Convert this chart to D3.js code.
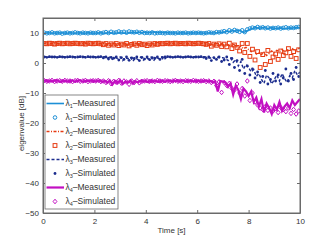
<!DOCTYPE html>
<html>
<head>
<meta charset="utf-8">
<script src="https://cdn.jsdelivr.net/npm/d3@7"></script>
<style>
  body { margin: 0; background: #fff; }
  svg { font-family: "Liberation Sans", Arial, sans-serif; }
  .axis path, .axis line { stroke: #6a6a6a; }
  .axis text { fill: #333; font-size: 8px; }
</style>
</head>
<body>
<div id="chart"></div>
<script>
// time axes: measured at 0.1 s, simulated offset by 0.05 s
const tMeas = d3.range(0, 101).map(i => i / 10);
const tSim = d3.range(0, 100).map(i => i / 10 + 0.05);

const l1Meas = [
  10.0, 9.9, 10.1, 10.0, 10.0, 9.9, 10.1, 10.0, 10.1, 9.9,
  10.0, 10.1, 9.9, 10.0, 10.0, 10.1, 9.9, 10.0, 10.1, 10.0,
  9.9, 10.0, 10.1, 10.0, 9.9, 10.0, 10.1, 10.0, 9.9, 10.0,
  10.1, 10.0, 9.9, 10.0, 10.1, 10.2, 10.0, 10.3, 10.1, 10.2,
  10.3, 10.1, 10.2, 10.4, 10.1, 10.2, 10.3, 10.0, 10.2, 10.1,
  10.0, 10.1, 9.9, 10.0, 10.1, 10.0, 9.9, 10.0, 10.1, 10.0,
  10.0, 10.1, 10.0, 9.9, 10.0, 10.1, 10.0, 10.0, 10.1, 10.2,
  10.2, 10.4, 10.6, 10.5, 10.8, 10.6, 10.9, 10.7, 10.2, 10.5,
  11.0, 11.4, 11.6, 11.8, 11.6, 11.7, 11.9, 11.5, 11.6, 11.8,
  11.6, 11.5, 11.7, 11.6, 11.4, 11.5, 11.7, 11.6, 11.8, 11.7,
  11.9
];
const l1Sim = [
  10.1, 9.9, 10.0, 10.2, 9.9, 10.0, 10.1, 9.8, 10.0, 10.1,
  9.9, 10.0, 10.2, 10.0, 9.9, 10.1, 10.0, 9.9, 10.1, 10.0,
  10.0, 10.2, 9.9, 10.1, 10.3, 10.0, 10.4, 10.1, 10.2, 10.5,
  10.2, 10.4, 10.1, 10.5, 10.3, 10.2, 10.4, 10.1, 10.3, 10.0,
  10.1, 10.0, 10.2, 9.9, 10.0, 10.1, 10.0, 9.9, 10.1, 10.0,
  10.0, 9.9, 10.1, 10.0, 10.0, 10.1, 9.9, 10.0, 10.1, 10.0,
  10.1, 10.0, 9.9, 10.0, 10.2, 10.1, 10.0, 10.3, 10.2, 10.4,
  10.6, 10.3, 10.9, 10.5, 11.0, 10.7, 10.4, 10.9, 10.3, 11.2,
  11.5, 11.8, 11.6, 12.0, 11.7, 11.9, 11.6, 11.8, 11.5, 11.7,
  11.6, 11.8, 11.5, 11.7, 11.9, 11.6, 11.8, 11.7, 11.9, 12.0
];

const l2Meas = [
  6.5, 6.6, 6.4, 6.5, 6.5, 6.6, 6.4, 6.5, 6.6, 6.5,
  6.4, 6.5, 6.5, 6.6, 6.4, 6.5, 6.6, 6.5, 6.4, 6.5,
  6.6, 6.5, 6.4, 6.5, 6.6, 6.2, 6.5, 6.3, 6.6, 6.1,
  6.5, 6.3, 6.4, 6.0, 6.5, 6.2, 6.4, 6.1, 6.5, 6.3,
  6.4, 6.2, 6.5, 6.3, 6.5, 6.4, 6.6, 6.5, 6.4, 6.5,
  6.5, 6.6, 6.4, 6.5, 6.6, 6.5, 6.4, 6.5, 6.6, 6.5,
  6.4, 6.5, 6.6, 6.5, 6.3, 6.5, 6.2, 6.5, 6.3, 6.4,
  6.4, 6.3, 6.0, 5.5, 6.2, 5.8, 5.0, 5.6, 4.8, 5.2,
  4.5, 3.8, 4.2, 3.0, 3.5, 2.8, 3.6, 2.5, 3.2, 4.0,
  3.4, 4.2, 3.8, 4.5, 3.6, 4.4, 4.0, 4.8, 4.2, 4.6,
  5.0
];
const l2Sim = [
  6.5, 6.4, 6.6, 6.5, 6.3, 6.5, 6.6, 6.4, 6.5, 6.6,
  6.4, 6.5, 6.6, 6.5, 6.4, 6.5, 6.3, 6.6, 6.5, 6.4,
  6.5, 6.6, 6.4, 6.1, 6.5, 5.9, 6.4, 6.0, 6.5, 5.8,
  6.3, 6.0, 6.5, 5.7, 6.2, 6.4, 5.9, 6.5, 6.1, 6.3,
  5.8, 6.4, 6.0, 6.5, 6.2, 6.5, 6.4, 6.5, 6.6, 6.4,
  6.5, 6.6, 6.4, 6.5, 6.5, 6.4, 6.6, 6.5, 6.4, 6.5,
  6.6, 6.5, 6.4, 6.2, 6.5, 5.6, 6.3, 5.9, 6.4, 5.5,
  6.3, 5.4, 6.6, 4.8, 6.0, 5.2, 4.0, 6.5, 3.5, 6.5,
  2.2, 4.6, 1.0, 3.8, -1.5, 2.8, -0.5, 4.2, 0.5, 2.0,
  3.0, 1.2, 4.0, 2.5, 3.4, 4.8, 2.2, 3.8, 1.5, 4.4
];

const l3Meas = [
  2.0, 2.1, 1.9, 2.0, 2.0, 2.1, 1.9, 2.0, 2.1, 2.0,
  1.9, 2.0, 2.1, 2.0, 1.9, 2.0, 2.1, 2.0, 1.9, 2.0,
  2.1, 2.0, 1.9, 2.0, 2.1, 1.6, 2.0, 1.2, 1.9, 1.5,
  2.0, 0.8, 1.8, 1.4, 2.0, 0.6, 1.7, 1.1, 2.0, 0.9,
  1.8, 1.3, 2.0, 0.7, 1.9, 1.5, 2.0, 1.0, 1.8, 2.0,
  2.1, 2.0, 1.9, 2.0, 2.1, 2.0, 1.9, 2.0, 2.0, 2.1,
  2.0, 1.9, 2.0, 2.1, 1.9, 1.6, 2.0, 1.4, 1.9, 1.7,
  1.8, 1.5, 0.8, 1.6, 0.2, 1.2, -1.0, 0.5, -2.0, -0.5,
  -1.5, -3.0, -2.2, -4.5, -3.5, -5.5, -6.8, -4.0, -5.0, -7.0,
  -5.5, -4.0, -6.0, -3.5, -5.2, -6.5, -4.2, -5.0, -2.5, -4.0,
  -3.0
];
const l3Sim = [
  2.0, 1.9, 2.1, 2.0, 2.0, 1.9, 2.1, 2.0, 1.9, 2.0,
  2.1, 2.0, 1.9, 2.0, 2.1, 2.0, 1.9, 2.1, 2.0, 2.0,
  1.9, 2.0, 2.1, 1.7, 2.0, 1.3, 1.9, 1.6, 2.0, 1.0,
  1.8, 1.2, 2.0, 0.9, 1.7, 1.5, 2.0, 0.8, 1.9, 1.3,
  2.0, 1.1, 1.8, 1.6, 2.0, 1.2, 1.9, 2.0, 2.1, 2.0,
  1.9, 2.0, 2.1, 2.0, 1.9, 2.0, 2.1, 2.0, 1.9, 2.0,
  2.0, 2.1, 1.9, 1.5, 2.0, 0.8, 1.8, 1.2, 2.0, 0.5,
  1.0, 2.0, -0.5, 1.5, -1.5, 0.8, -2.5, 1.2, -3.5, -1.0,
  -4.0, -2.0, -5.0, -3.0, -6.5, -4.5, -2.5, -7.0, -5.5, -3.5,
  -6.0, -4.0, -7.0, -5.0, -2.0, -6.0, -3.5, -5.5, -1.5, -4.5
];

const l4Meas = [
  -6.0, -5.8, -6.2, -5.9, -6.1, -5.7, -6.0, -6.3, -5.9, -6.0,
  -6.2, -5.8, -6.0, -6.1, -5.7, -6.0, -6.2, -5.9, -6.0, -5.8,
  -6.1, -6.0, -5.8, -6.3, -5.9, -6.6, -5.8, -7.2, -6.0, -6.8,
  -5.7, -7.0, -6.2, -6.5, -5.8, -6.9, -6.1, -6.4, -5.9, -6.2,
  -6.0, -6.4, -5.8, -6.2, -6.0, -6.3, -5.9, -6.1, -6.0, -5.8,
  -6.2, -5.9, -6.0, -6.1, -5.8, -6.0, -6.2, -5.9, -6.0, -6.1,
  -5.9, -6.0, -6.2, -5.8, -6.1, -6.0, -6.4, -6.1, -9.5, -6.0,
  -6.2, -6.5, -8.0, -6.8, -10.5, -7.5, -9.0, -12.0, -8.5, -9.5,
  -11.0, -9.5, -13.0, -11.5, -14.5, -12.0, -16.5, -13.5, -15.0, -17.0,
  -14.0, -15.5, -13.0, -16.0, -14.5, -13.5, -15.0, -12.5, -14.0, -13.0,
  -12.0
];
const l4Sim = [
  -5.9, -6.1, -6.0, -5.8, -6.2, -6.0, -5.9, -6.1, -5.8, -6.0,
  -6.0, -6.2, -5.9, -5.8, -6.1, -6.0, -5.8, -6.2, -6.0, -5.9,
  -6.0, -5.8, -6.2, -6.0, -6.5, -5.9, -6.9, -6.1, -6.4, -5.8,
  -6.7, -6.0, -6.3, -7.1, -6.0, -6.5, -5.9, -6.6, -6.1, -6.0,
  -5.9, -6.1, -6.0, -6.2, -5.8, -6.0, -6.1, -5.9, -6.0, -6.2,
  -6.0, -5.8, -6.1, -6.0, -6.2, -5.9, -6.0, -6.1, -5.8, -6.0,
  -6.1, -6.0, -5.9, -6.2, -6.0, -6.5, -6.1, -7.5, -6.3, -9.8,
  -6.5, -7.5, -6.8, -8.5, -9.0, -7.0, -10.0, -8.5, -11.0, -6.0,
  -12.5, -10.0, -13.0, -14.0, -15.0, -15.5, -14.5, -15.8, -15.0, -16.0,
  -15.2, -16.5, -14.8, -15.5, -16.2, -15.0, -16.8, -15.5, -17.0, -16.0
];

const xTicks = [0, 2, 4, 6, 8, 10];
const yTicks = [-50, -40, -30, -20, -10, 0, 10];

const series = [
  { idx: 1, meas: l1Meas, sim: l1Sim, color: '#1d8fd6', width: 1.6, dash: null, marker: 'circle' },
  { idx: 2, meas: l2Meas, sim: l2Sim, color: '#e63b12', width: 1.4, dash: '3,1.5,1,1.5', marker: 'square' },
  { idx: 3, meas: l3Meas, sim: l3Sim, color: '#1c2d8e', width: 1.4, dash: '3,2', marker: 'dot' },
  { idx: 4, meas: l4Meas, sim: l4Sim, color: '#c20fc2', width: 2.2, dash: null, marker: 'diamond' },
];

const W = 332, H = 240;
const pad = { l: 43, r: 32, t: 18, b: 27 };
const iw = W - pad.l - pad.r, ih = H - pad.t - pad.b;

const svg = d3.select('#chart').append('svg')
  .attr('width', W).attr('height', H);
const g = svg.append('g').attr('transform', `translate(${pad.l},${pad.t})`);

const x = d3.scaleLinear().domain([0, 10]).range([0, iw]);
const y = d3.scaleLinear().domain([-50, 15]).range([ih, 0]);

g.append('clipPath').attr('id', 'clip')
  .append('rect').attr('width', iw).attr('height', ih);

const drawMarker = (sel, kind, color) => {
  if (kind === 'circle') {
    sel.append('circle').attr('r', 1.8).attr('fill', 'none').attr('stroke', color).attr('stroke-width', 1);
  } else if (kind === 'square') {
    sel.append('rect').attr('x', -1.9).attr('y', -1.9).attr('width', 3.8).attr('height', 3.8)
      .attr('fill', 'none').attr('stroke', color).attr('stroke-width', 1);
  } else if (kind === 'dot') {
    sel.append('circle').attr('r', 1.4).attr('fill', color);
  } else {
    sel.append('path').attr('d', 'M0,-2.3L1.9,0L0,2.3L-1.9,0Z')
      .attr('fill', 'none').attr('stroke', color).attr('stroke-width', 1);
  }
};

const plot = g.append('g').attr('clip-path', 'url(#clip)');
const line = d3.line().x((d, i) => x(tMeas[i])).y(d => y(d));

series.forEach(s => {
  plot.append('path')
    .datum(s.meas)
    .attr('fill', 'none')
    .attr('stroke', s.color)
    .attr('stroke-width', s.width)
    .attr('stroke-dasharray', s.dash)
    .attr('d', line);
  plot.append('g').selectAll('g')
    .data(s.sim)
    .join('g')
    .attr('transform', (d, i) => `translate(${x(tSim[i])},${y(d)})`)
    .each(function () { drawMarker(d3.select(this), s.marker, s.color); });
});

// axes with inward ticks on all four sides
g.append('g').attr('class', 'axis').attr('transform', `translate(0,${ih})`)
  .call(d3.axisBottom(x).tickValues(xTicks).tickSizeInner(-3).tickSizeOuter(0).tickPadding(5).tickFormat(d3.format('')));
g.append('g').attr('class', 'axis')
  .call(d3.axisTop(x).tickValues(xTicks).tickSizeInner(-3).tickSizeOuter(0).tickFormat(''));
g.append('g').attr('class', 'axis')
  .call(d3.axisLeft(y).tickValues(yTicks).tickSizeInner(-3).tickSizeOuter(0).tickPadding(4).tickFormat(d => d < 0 ? '\u2212' + Math.abs(d) : d));
g.append('g').attr('class', 'axis').attr('transform', `translate(${iw},0)`)
  .call(d3.axisRight(y).tickValues(yTicks).tickSizeInner(-3).tickSizeOuter(0).tickFormat(''));
g.append('rect').attr('width', iw).attr('height', ih)
  .attr('fill', 'none').attr('stroke', '#6a6a6a').attr('stroke-width', 1);

g.append('text')
  .attr('x', iw / 2).attr('y', ih + 20)
  .attr('text-anchor', 'middle').attr('fill', '#333').attr('font-size', 8)
  .text('Time [s]');
g.append('text')
  .attr('transform', `translate(-19,${ih / 2 + 8}) rotate(-90)`)
  .attr('text-anchor', 'middle').attr('fill', '#333').attr('font-size', 8)
  .text('eigenvalue [dB]');

// legend
const leg = svg.append('g').attr('transform', 'translate(45,95)');
leg.append('rect').attr('width', 73).attr('height', 114)
  .attr('fill', '#fff').attr('stroke', '#6a6a6a').attr('stroke-width', 0.8);
const rows = [];
series.forEach(s => {
  rows.push({ s, kind: 'line', label: 'Measured' });
  rows.push({ s, kind: 'marker', label: 'Simulated' });
});
rows.forEach((r, i) => {
  const ry = 8.5 + i * 14;
  const row = leg.append('g').attr('transform', `translate(0,${ry})`);
  if (r.kind === 'line') {
    row.append('line').attr('x1', 1.5).attr('x2', 19).attr('y1', 0).attr('y2', 0)
      .attr('stroke', r.s.color).attr('stroke-width', r.s.width)
      .attr('stroke-dasharray', r.s.dash);
  } else {
    drawMarker(row.append('g').attr('transform', 'translate(10,0)'), r.s.marker, r.s.color);
  }
  const t = row.append('text').attr('x', 20.5).attr('y', 2.5)
    .attr('fill', '#333').attr('font-size', 8.5);
  t.append('tspan').text('\u03bb');
  t.append('tspan').attr('font-size', 5.5).attr('dy', 2).text(r.s.idx);
  t.append('tspan').attr('dy', -2).text('\u2013' + r.label);
});
</script>
</body>
</html>
